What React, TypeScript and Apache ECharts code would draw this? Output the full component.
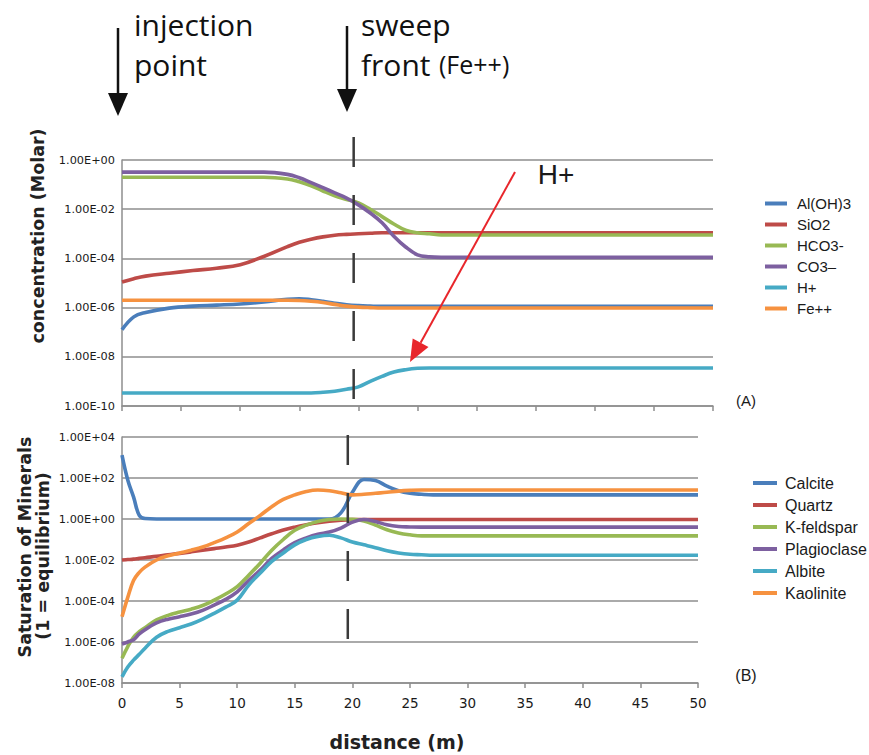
import React, { useEffect, useRef } from "react";
import * as echarts from "echarts";

// ---------- Data ----------
const topX = [0, 1, 2, 4, 6, 8, 10, 12, 14, 15, 16, 17, 18, 19, 20, 21, 22, 23, 24, 25, 26, 27, 28, 30, 35, 40, 45, 50];
const alOH3 = [1.26e-7, 4.2e-7, 6.3e-7, 9.5e-7, 1.15e-6, 1.26e-6, 1.4e-6, 1.7e-6, 2.2e-6, 2.3e-6, 2.1e-6, 1.8e-6, 1.5e-6, 1.3e-6, 1.2e-6, 1.15e-6, 1.12e-6, 1.12e-6, 1.12e-6, 1.12e-6, 1.12e-6, 1.12e-6, 1.12e-6, 1.12e-6, 1.12e-6, 1.12e-6, 1.12e-6, 1.12e-6];
const siO2 = [1.1e-5, 1.5e-5, 1.9e-5, 2.5e-5, 3.2e-5, 4e-5, 5.5e-5, 1.2e-4, 3e-4, 4.5e-4, 6e-4, 7.5e-4, 8.8e-4, 9.5e-4, 1.0e-3, 1.05e-3, 1.1e-3, 1.1e-3, 1.1e-3, 1.1e-3, 1.1e-3, 1.1e-3, 1.1e-3, 1.1e-3, 1.1e-3, 1.1e-3, 1.1e-3, 1.1e-3];
const hco3 = [0.2, 0.2, 0.2, 0.2, 0.2, 0.2, 0.2, 0.2, 0.17, 0.13, 0.09, 0.055, 0.035, 0.025, 0.018, 0.01, 0.005, 0.0025, 0.0014, 0.0011, 0.001, 9e-4, 9e-4, 9e-4, 9e-4, 9e-4, 9e-4, 9e-4];
const co3 = [0.32, 0.32, 0.32, 0.32, 0.32, 0.32, 0.32, 0.32, 0.26, 0.19, 0.12, 0.075, 0.046, 0.028, 0.015, 0.007, 0.0028, 8e-4, 2.9e-4, 1.4e-4, 1.15e-4, 1.1e-4, 1.1e-4, 1.1e-4, 1.1e-4, 1.1e-4, 1.1e-4, 1.1e-4];
const hPlus = [3.4e-10, 3.4e-10, 3.4e-10, 3.4e-10, 3.4e-10, 3.4e-10, 3.4e-10, 3.4e-10, 3.4e-10, 3.4e-10, 3.4e-10, 3.6e-10, 4e-10, 4.8e-10, 6e-10, 1e-9, 1.6e-9, 2.4e-9, 3.0e-9, 3.4e-9, 3.5e-9, 3.5e-9, 3.5e-9, 3.5e-9, 3.5e-9, 3.5e-9, 3.5e-9, 3.5e-9];
const fePP = [2.0e-6, 2.0e-6, 2.0e-6, 2.0e-6, 2.0e-6, 2.0e-6, 2.0e-6, 2.0e-6, 2.0e-6, 1.95e-6, 1.8e-6, 1.6e-6, 1.35e-6, 1.15e-6, 1.05e-6, 1.0e-6, 0.97e-6, 0.97e-6, 0.97e-6, 0.97e-6, 0.97e-6, 0.97e-6, 0.97e-6, 0.97e-6, 0.97e-6, 0.97e-6, 0.97e-6, 0.97e-6];

const botX = [0, 0.5, 1, 1.5, 2, 3, 4, 5, 6, 7, 8, 9, 10, 11, 12, 13, 14, 15, 16, 17, 18, 19, 20, 21, 22, 23, 24, 25, 26, 27, 28, 30, 35, 40, 45, 50];
const calcite = [1300, 80, 12, 1.5, 1.05, 1, 1, 1, 1, 1, 1, 1, 1, 1, 1, 1, 1, 1, 1, 1, 1, 2, 20, 85, 75, 40, 24, 18, 16, 15, 15, 15, 15, 15, 15, 15];
const quartz = [0.01, 0.0105, 0.011, 0.012, 0.013, 0.015, 0.018, 0.021, 0.025, 0.03, 0.036, 0.043, 0.053, 0.075, 0.12, 0.19, 0.29, 0.4, 0.52, 0.65, 0.77, 0.87, 0.93, 0.95, 0.95, 0.95, 0.95, 0.95, 0.95, 0.95, 0.95, 0.95, 0.95, 0.95, 0.95, 0.95];
const kFeldspar = [1.6e-7, 6e-7, 1.7e-6, 3.2e-6, 5e-6, 1.2e-5, 2e-5, 2.9e-5, 4e-5, 6e-5, 1.1e-4, 2.2e-4, 5e-4, 1.8e-3, 7e-3, 3e-2, 0.1, 0.28, 0.5, 0.75, 0.95, 1.0, 0.98, 0.8, 0.5, 0.3, 0.21, 0.17, 0.15, 0.15, 0.15, 0.15, 0.15, 0.15, 0.15, 0.15];
const plagioclase = [8e-7, 1.0e-6, 1.3e-6, 2.5e-6, 4e-6, 8.5e-6, 1.3e-5, 1.7e-5, 2.3e-5, 3.5e-5, 6.3e-5, 1.2e-4, 2.8e-4, 1e-3, 3.2e-3, 1.2e-2, 3.1e-2, 7e-2, 0.12, 0.18, 0.23, 0.36, 0.7, 0.95, 0.75, 0.52, 0.43, 0.41, 0.4, 0.4, 0.4, 0.4, 0.4, 0.4, 0.4, 0.4];
const albite = [2e-8, 6e-8, 1.3e-7, 2.5e-7, 5e-7, 1.7e-6, 3.3e-6, 5e-6, 7.5e-6, 1.3e-5, 2.5e-5, 5e-5, 1.1e-4, 6e-4, 2.3e-3, 8.5e-3, 2.2e-2, 5.5e-2, 0.1, 0.14, 0.16, 0.12, 0.075, 0.055, 0.04, 0.028, 0.022, 0.019, 0.018, 0.017, 0.017, 0.017, 0.017, 0.017, 0.017, 0.017];
const kaolinite = [1.7e-5, 1.5e-4, 1e-3, 2.5e-3, 4.5e-3, 1e-2, 1.6e-2, 2.2e-2, 3e-2, 4.3e-2, 7e-2, 0.12, 0.23, 0.6, 1.5, 4, 9, 15, 22, 26, 24, 19, 15, 16, 18, 20, 23, 25, 26, 26, 26, 26, 26, 26, 26, 26];

const topNames = ["Al(OH)3", "SiO2", "HCO3-", "CO3\u2013", "H+", "Fe++"];
const botNames = ["Calcite", "Quartz", "K-feldspar", "Plagioclase", "Albite", "Kaolinite"];
const xTicks = { min: 0, max: 50, interval: 5 };
const topRange = { min: 1e-10, max: 1 };
const botRange = { min: 1e-8, max: 1e4 };
const sweepFrontX = 19.6;

const colors = ["#4A7EBB", "#BE4B48", "#98B954", "#7D60A0", "#46AAC5", "#F69240"];

const sciLabel = (v: number) => {
  const e = Math.round(Math.log10(v));
  return "1.00E" + (e >= 0 ? "+" : "-") + String(Math.abs(e)).padStart(2, "0");
};

export default function App() {
  const ref = useRef<HTMLDivElement>(null);
  useEffect(() => {
    if (!ref.current) return;
    const chart = echarts.init(ref.current, null, { renderer: "svg" });
    const topData = [alOH3, siO2, hco3, co3, hPlus, fePP];
    const botData = [calcite, quartz, kFeldspar, plagioclase, albite, kaolinite];
    const mk = (names: string[], data: number[][], xs: number[], idx: number) =>
      names.map((n, i) => ({
        name: n,
        type: "line",
        xAxisIndex: idx,
        yAxisIndex: idx,
        data: xs.map((x, j) => [x, data[i][j]]),
        smooth: 0.4,
        showSymbol: false,
        symbol: "none",
        color: colors[i],
        lineStyle: { width: 3.6, color: colors[i] },
        z: 3,
      }));

    const gridLine = { show: true, lineStyle: { color: "#8e8e8e", width: 1.5 } };
    const axisLine = { show: true, lineStyle: { color: "#8e8e8e", width: 1.5 } };
    const yLabel = { fontFamily: "DejaVu Sans", fontSize: 11.3, color: "#1a1a1a", margin: 7, formatter: sciLabel };

    const legendText = (size: number, pad: number, lh: number) => ({
      fontFamily: "Liberation Sans",
      fontSize: size,
      color: "#1a1a1a",
      lineHeight: lh,
      padding: [0, 0, 0, pad],
    });

    const option: any = {
      animation: false,
      backgroundColor: "#fff",
      grid: [
        { left: 122, right: 869 - 713, top: 160, height: 246 },
        { left: 122, right: 869 - 698, top: 437, height: 246 },
      ],
      xAxis: [
        {
          type: "value", gridIndex: 0, ...xTicks,
          axisLine, splitLine: { show: false },
          axisTick: { show: true, length: 5, lineStyle: { color: "#8e8e8e", width: 1.5 } },
          axisLabel: { show: false },
        },
        {
          type: "value", gridIndex: 1, ...xTicks,
          axisLine, splitLine: { show: false },
          axisTick: { show: true, length: 5, lineStyle: { color: "#8e8e8e", width: 1.5 } },
          axisLabel: { fontFamily: "DejaVu Sans", fontSize: 13.5, color: "#1a1a1a", margin: 13 },
        },
      ],
      yAxis: [
        {
          type: "log", logBase: 100, gridIndex: 0, ...topRange,
          axisLine, axisTick: { show: false }, splitLine: gridLine, axisLabel: yLabel,
        },
        {
          type: "log", logBase: 100, gridIndex: 1, ...botRange,
          axisLine, axisTick: { show: false }, splitLine: gridLine, axisLabel: yLabel,
        },
      ],
      legend: [
        {
          data: topNames, orient: "vertical", left: 765, top: 196, itemWidth: 22, itemHeight: 4,
          itemGap: 6, icon: "rect", textStyle: legendText(15, 5, 14), padding: 0,
        },
        {
          data: botNames, orient: "vertical", left: 753, top: 475, itemWidth: 24, itemHeight: 4,
          itemGap: 6, icon: "rect", textStyle: legendText(16, 3, 14.2), padding: 0,
        },
      ],
      series: [...mk(topNames, topData, topX, 0), ...mk(botNames, botData, botX, 1)],
    };
    chart.setOption(option);

    // Sweep-front dashed lines positioned through the axes' scales
    const t1 = chart.convertToPixel({ gridIndex: 0 } as any, [sweepFrontX, topRange.max]) as number[];
    const t2 = chart.convertToPixel({ gridIndex: 0 } as any, [sweepFrontX, topRange.min]) as number[];
    const b1 = chart.convertToPixel({ gridIndex: 1 } as any, [sweepFrontX, botRange.max]) as number[];
    const b2 = chart.convertToPixel({ gridIndex: 1 } as any, [sweepFrontX, 1e-6]) as number[];
    const dashStyle = { stroke: "#3a3a3a", lineWidth: 2.5, lineDash: [30, 28] };

    const txt = (text: string, x: number, y: number, size: number, extra: any = {}) => ({
      type: "text", x, y, z: 10,
      style: { text, fontFamily: "Liberation Sans", fontSize: size, fill: "#1a1a1a", align: "center", verticalAlign: "middle", ...extra },
    });
    const ann = { align: "left", fontFamily: "Open Sans", fill: "#111" };

    chart.setOption({
      graphic: [
        { type: "line", z: 5, shape: { x1: t1[0], y1: t1[1] - 23, x2: t2[0], y2: t2[1] }, style: dashStyle },
        { type: "line", z: 5, shape: { x1: b1[0], y1: b1[1] - 2, x2: b2[0], y2: b2[1] }, style: dashStyle },
        // annotations
        { type: "line", shape: { x1: 118, y1: 28, x2: 118, y2: 97 }, style: { stroke: "#111", lineWidth: 2.5 } },
        { type: "polygon", shape: { points: [[108, 93], [128, 93], [118, 116]] }, style: { fill: "#111" } },
        { type: "line", shape: { x1: 347, y1: 26, x2: 347, y2: 93 }, style: { stroke: "#111", lineWidth: 2.5 } },
        { type: "polygon", shape: { points: [[337, 89], [357, 89], [347, 112]] }, style: { fill: "#111" } },
        txt("injection", 134, 24, 30, ann),
        txt("point", 134, 64, 30, ann),
        txt("sweep", 361, 24, 30, ann),
        txt("front", 361, 64, 30, ann),
        txt("(Fe++)", 439, 64, 25, ann),
        // H+ red arrow
        { type: "line", z: 6, shape: { x1: 515, y1: 172, x2: 420.6, y2: 342.7 }, style: { stroke: "#E8262B", lineWidth: 2 } },
        { type: "polygon", z: 6, shape: { points: [[410, 362], [428.5, 347.1], [412.7, 338.4]] }, style: { fill: "#E8262B" } },
        txt("H+", 556, 174, 28),
        txt("(A)", 746, 400, 15),
        txt("(B)", 746, 675, 16),
        // axis titles
        { type: "text", x: 38, y: 236, rotation: Math.PI / 2, style: { text: "concentration (Molar)", fontFamily: "DejaVu Sans", fontWeight: "bold", fontSize: 17.5, fill: "#222", align: "center", verticalAlign: "middle" } },
        { type: "text", x: 25, y: 547, rotation: Math.PI / 2, style: { text: "Saturation of Minerals", fontFamily: "DejaVu Sans", fontWeight: "bold", fontSize: 17.5, fill: "#222", align: "center", verticalAlign: "middle" } },
        { type: "text", x: 43, y: 556, rotation: Math.PI / 2, style: { text: "(1 = equilibrium)", fontFamily: "DejaVu Sans", fontWeight: "bold", fontSize: 17.5, fill: "#222", align: "center", verticalAlign: "middle" } },
        { type: "text", x: 397, y: 742, style: { text: "distance (m)", fontFamily: "DejaVu Sans", fontWeight: "bold", fontSize: 19, fill: "#222", align: "center", verticalAlign: "middle" } },
      ],
    });

    return () => chart.dispose();
  }, []);
  return <div ref={ref} style={{ position: "fixed", left: 0, top: 0, width: 869, height: 755 }} />;
}
